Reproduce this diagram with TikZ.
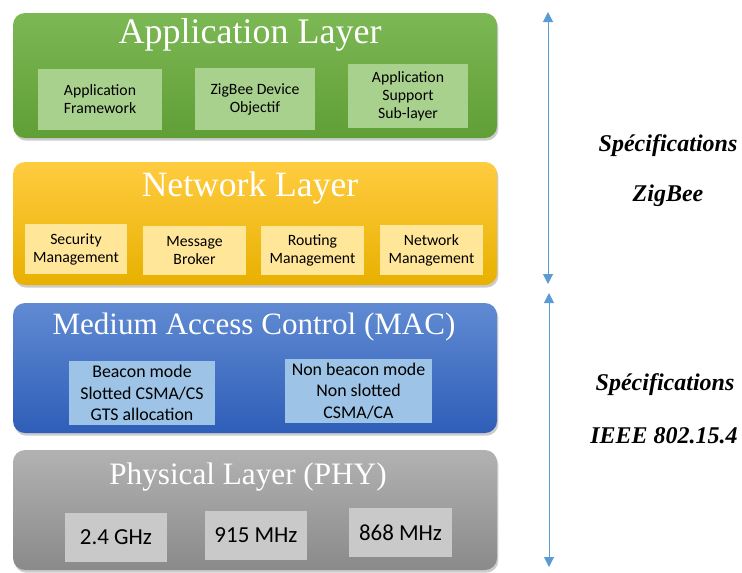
\documentclass[tikz,border=0pt]{standalone}
\usepackage{fontspec}
\setmainfont{Liberation Serif}
\newfontfamily\calibri{Carlito}
\usetikzlibrary{shadows,arrows.meta}

\definecolor{appTop}{RGB}{124,184,84}
\definecolor{appBot}{RGB}{96,158,54}
\definecolor{appSub}{RGB}{169,209,142}
\definecolor{netTop}{RGB}{255,204,64}
\definecolor{netBot}{RGB}{232,176,0}
\definecolor{netSub}{RGB}{255,230,153}
\definecolor{macTop}{RGB}{96,138,210}
\definecolor{macBot}{RGB}{47,94,184}
\definecolor{macSub}{RGB}{157,195,230}
\definecolor{phyTop}{RGB}{178,178,178}
\definecolor{phyBot}{RGB}{138,138,138}
\definecolor{phySub}{RGB}{201,201,201}
\definecolor{specBlue}{RGB}{91,155,213}

\tikzset{every picture/.style={line width=0.75pt}}
\tikzset{
  layer/.style={rounded corners=9pt, minimum width=363pt, inner sep=0pt,
    drop shadow={opacity=0.4, shadow xshift=1pt, shadow yshift=-2pt}},
  title/.style={text=white, inner sep=0pt},
  subbox/.style={inner sep=0pt, align=center, font=\calibri\fontsize{11.8}{13.5}\selectfont},
  macbox/.style={subbox, fill=macSub, minimum height=48pt, font=\calibri\fontsize{13.4}{16}\selectfont},
  phybox/.style={subbox, fill=phySub, minimum height=36.75pt, font=\calibri\fontsize{17.2}{19}\selectfont},
  specarrow/.style={draw=specBlue, line width=0.75pt, {Triangle[length=7.5pt,width=7.5pt]}-{Triangle[length=7.5pt,width=7.5pt]}},
  spectext/.style={font=\fontsize{18}{20}\selectfont\bfseries\itshape}
}

\begin{document}
\begin{tikzpicture}[x=0.75pt,y=0.75pt,yscale=-1,xscale=1]
\useasboundingbox (0,0) rectangle (742,572);

%Shape: Rounded Rect [application layer]
\node[layer, top color=appTop, bottom color=appBot, minimum height=93.75pt] (app) at (255,75.5) {};
% Text Node
\node[title, font=\fontsize{27}{29}\selectfont] (appTitle) at (250,35) {Application Layer};
\node[subbox, fill=appSub, minimum width=93pt, minimum height=45.75pt] (appFw) at (100,99.5) {Application\\Framework};
\node[subbox, fill=appSub, minimum width=90pt, minimum height=46.5pt] (zdo) at (255,99) {ZigBee Device\\Objectif};
\node[subbox, fill=appSub, minimum width=90pt, minimum height=48pt] (aps) at (408,96) {Application\\Support\\Sub-layer};

%Shape: Rounded Rect [network layer]
\node[layer, top color=netTop, bottom color=netBot, minimum height=92.25pt] (net) at (255,223.5) {};
% Text Node
\node[title, font=\fontsize{26.7}{29}\selectfont] (netTitle) at (250,188) {Network Layer};
\node[subbox, fill=netSub, minimum width=76.5pt, minimum height=37.5pt] (secMgt) at (76,249) {Security\\Management};
\node[subbox, fill=netSub, minimum width=77.25pt, minimum height=36.75pt] (msgBrk) at (194.5,250.5) {Message\\Broker};
\node[subbox, fill=netSub, minimum width=77.25pt, minimum height=36.75pt] (routMgt) at (312.5,250.5) {Routing\\Management};
\node[subbox, fill=netSub, minimum width=77.25pt, minimum height=37.5pt] (netMgt) at (431.5,250) {Network\\Management};

%Shape: Rounded Rect [MAC layer]
\node[layer, top color=macTop, bottom color=macBot, minimum height=97.5pt] (mac) at (255,368) {};
% Text Node
\node[title, font=\fontsize{23.3}{26}\selectfont] (macTitle) at (254,327) {Medium Access Control (MAC)};
\node[macbox, minimum width=109.5pt] (beacon) at (142,393) {Beacon mode\\Slotted CSMA/CS\\GTS allocation};
\node[macbox, minimum width=110.25pt] (nonBeacon) at (358.5,391) {Non beacon mode\\Non slotted\\CSMA/CA};

%Shape: Rounded Rect [physical layer]
\node[layer, top color=phyTop, bottom color=phyBot, minimum height=90pt] (phy) at (255,510) {};
% Text Node
\node[title, font=\fontsize{23.4}{26}\selectfont] (phyTitle) at (248,477) {Physical Layer (PHY)};
\node[phybox, minimum width=76.5pt] (band24) at (116,537.5) {2.4 GHz};
\node[phybox, minimum width=76.5pt] (band915) at (256,535.5) {915 MHz};
\node[phybox, minimum width=77.25pt] (band868) at (400.5,532.5) {868 MHz};

%Straight Lines [spec arrows]
\coordinate (zbTop) at (548,12);
\coordinate (zbBot) at (548,284);
\coordinate (ieeeTop) at (549,293);
\coordinate (ieeeBot) at (549,567);
\draw[specarrow] (zbTop) -- (zbBot);
\draw[specarrow] (ieeeTop) -- (ieeeBot);

% Text Node
\node[spectext] (zbSpec) at (668,146) {Spécifications};
\node[spectext] (zbName) at (668,196) {ZigBee};
\node[spectext] (ieeeSpec) at (665,385) {Spécifications};
\node[spectext] (ieeeName) at (664,436) {IEEE 802.15.4};

\end{tikzpicture}
\end{document}
